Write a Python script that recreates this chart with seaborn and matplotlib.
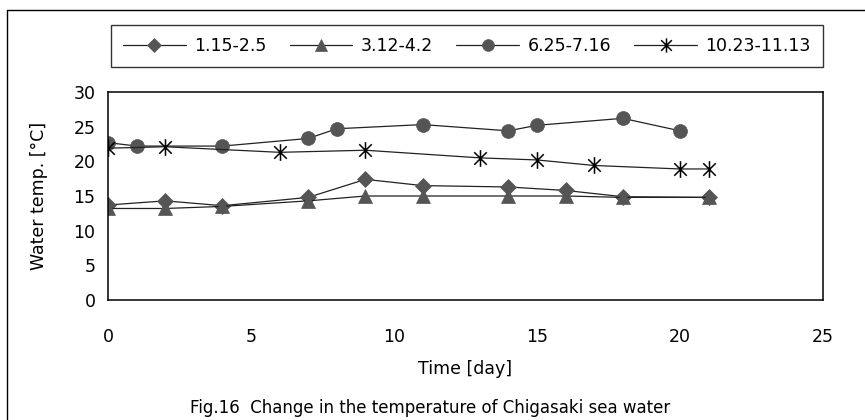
import numpy as np
import pandas as pd
import seaborn as sns
import matplotlib
matplotlib.use("Agg")
import matplotlib.pyplot as plt
from matplotlib.path import Path
from matplotlib.lines import Line2D

# ---- data ----
labels = ["1.15-2.5", "3.12-4.2", "6.25-7.16", "10.23-11.13"]
day_a = [0, 2, 4, 7, 9, 11, 14, 16, 18, 21]
temp_a = [13.7, 14.3, 13.6, 14.8, 17.4, 16.5, 16.3, 15.8, 14.9, 14.8]
day_b = [0, 2, 4, 7, 9, 11, 14, 16, 18, 21]
temp_b = [13.2, 13.2, 13.5, 14.3, 15.0, 15.0, 15.0, 15.0, 14.8, 14.8]
day_c = [0, 1, 4, 7, 8, 11, 14, 15, 18, 20]
temp_c = [22.7, 22.2, 22.2, 23.3, 24.7, 25.3, 24.4, 25.2, 26.2, 24.4]
day_d = [0, 2, 6, 9, 13, 15, 17, 20, 21]
temp_d = [21.9, 22.1, 21.3, 21.6, 20.5, 20.2, 19.4, 18.9, 18.9]
x_ticks = [0, 5, 10, 15, 20, 25]
y_ticks = [0, 5, 10, 15, 20, 25, 30]

sns.set_style("white")
plt.rcParams["font.family"] = ["DejaVu Sans"]
plt.rcParams["text.color"] = "black"
plt.rcParams["axes.labelcolor"] = "black"
plt.rcParams["xtick.color"] = "black"
plt.rcParams["ytick.color"] = "black"

# asterisk marker: vertical bar + X
star = Path([(0, -1), (0, 1), (-0.75, -0.75), (0.75, 0.75), (-0.75, 0.75), (0.75, -0.75)],
            [Path.MOVETO, Path.LINETO, Path.MOVETO, Path.LINETO, Path.MOVETO, Path.LINETO])

fig = plt.figure(figsize=(8.65, 4.2), dpi=100)
ax = fig.add_axes([108 / 865, 1 - 300 / 420, (823 - 108) / 865, (300 - 92) / 420])

gray = "#555555"
series = [
    (day_a, temp_a, "D", 8.5, gray),
    (day_b, temp_b, "^", 10, gray),
    (day_c, temp_c, "o", 10, gray),
    (day_d, temp_d, star, 12, "black"),
]
handles = []
for (d, t, m, ms, c), lab in zip(series, labels):
    df = pd.DataFrame({"day": d, "temp": t})
    sns.lineplot(data=df, x="day", y="temp", ax=ax, color="#222222", lw=0.9,
                 marker=m, markersize=ms, markerfacecolor=c,
                 markeredgecolor=c, markeredgewidth=1.1 if m is star else 0.5,
                 legend=False, estimator=None, sort=False)
    handles.append(Line2D([], [], color="#222222", lw=0.9, marker=m,
                          markersize=ms * 0.85, markerfacecolor=c,
                          markeredgecolor=c,
                          markeredgewidth=1.1 if m is star else 0.5, label=lab))

ax.set_xlim(0, 25)
ax.set_ylim(0, 30)
ax.set_xticks(x_ticks)
ax.set_yticks(y_ticks)
ax.tick_params(direction="in", length=5, width=0.8, labelsize=12.5, colors="black")
ax.tick_params(axis="x", pad=20)
ax.tick_params(axis="y", pad=9)
for s in ax.spines.values():
    s.set_color("black")
    s.set_linewidth(1.1)
ax.set_xlabel("Time [day]", fontsize=12.5, labelpad=10)
ax.set_ylabel("Water temp. [\u00b0C]", fontsize=12.5, labelpad=18)

leg = fig.legend(handles=handles, loc="upper left",
                 bbox_to_anchor=(111 / 865, 1 - 25 / 420, (823 - 111) / 865, 0),
                 mode="expand", ncol=4, fontsize=12.5, frameon=True, fancybox=False,
                 edgecolor="black", handlelength=3.6, handletextpad=0.5,
                 columnspacing=1.5, borderpad=0.7, borderaxespad=0)
leg.get_frame().set_linewidth(1.0)

fig.text(430 / 865, 1 - 408 / 420, "Fig.16  Change in the temperature of Chigasaki sea water",
         ha="center", va="center", fontsize=12)

# outer frame lines (top and left)
fig.add_artist(Line2D([7 / 865, 1], [1 - 10 / 420] * 2, color="black", lw=1.0))
fig.add_artist(Line2D([7 / 865] * 2, [0, 1 - 10 / 420], color="black", lw=1.0))

fig.savefig("out.png", dpi=100)
